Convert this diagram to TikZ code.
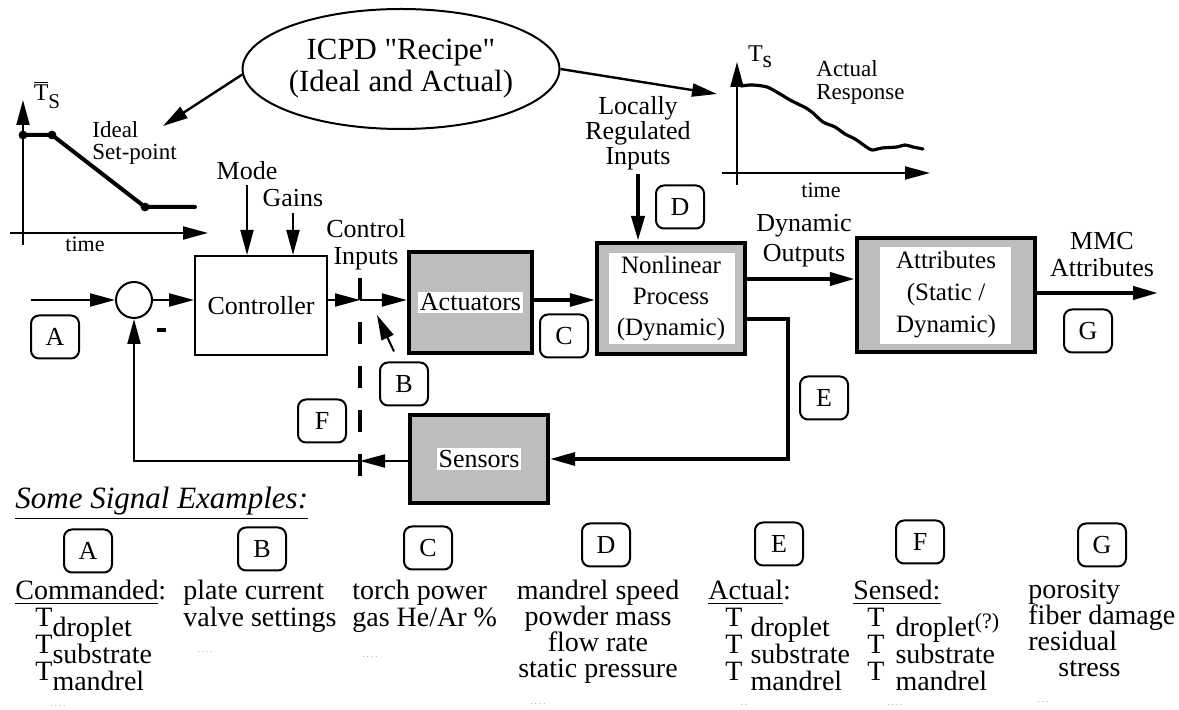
\documentclass[tikz,border=0pt]{standalone}
\usepackage{fontspec}
\setmainfont{Liberation Serif}
\usetikzlibrary{arrows.meta, calc, positioning, shapes.geometric}
\definecolor{Ink}  {HTML}{000000}
\definecolor{Stip} {HTML}{BDBDBD}
\definecolor{Speck}{HTML}{A8A8A8}
\setlength{\fboxsep}{1pt}
\newcommand{\fsz}[2]{\fontsize{#1}{#2}\selectfont}
% T with a lowered name
\newcommand{\Tsub}[2][0pt]{T\hspace{#1}\raisebox{-5pt}[0pt][0pt]{#2}}
\tikzset{
  blk/.style={
    rectangle, draw=Ink, line width=1pt,
    inner sep=0pt, align=center, font=\fsz{13}{15.5},
  },
  pblk/.style={blk, fill=Stip, line width=2.2pt},
  inset/.style args={#1/#2/#3/#4}{
    path picture={\fill[white]
      ([shift={(#1,#2)}]path picture bounding box.north west) rectangle
      ([shift={(#3,#4)}]path picture bounding box.south east);},
  },
  sigtag/.style={
    rectangle, rounded corners=4pt, draw=Ink, line width=1pt,
    minimum width=24pt, minimum height=21.5pt, inner sep=0pt,
    font=\fsz{13}{13},
  },
  arr/.style={
    -{Triangle[length=12.5pt,width=6.5pt]},
    line width=#1, draw=Ink,
  },
  arr/.default=1pt,
  lbl/.style={inner sep=0pt, align=center, font=\fsz{13}{13.5}},
  sigtext/.style={inner sep=0pt, anchor=north west, align=left, font=\fsz{14}{13.2}},
  trace/.style={line width=2pt, line join=round, line cap=round},
  cut/.style={line width=1.6pt, dash pattern=on 11pt off 11pt},
  speck/.style={text=Speck, font=\fsz{5}{5}, inner sep=0pt},
}

\begin{document}
\begin{tikzpicture}[x=0.5pt,y=-0.5pt]
  \useasboundingbox (0,0) rectangle (1179,710);

  % recipe and the two set-point plots
  \node[ellipse, draw=Ink, line width=1pt, minimum width=147pt, minimum height=60pt,
        inner sep=0pt, align=center, font=\fsz{15.4}{16}] (recipe) at (401,69)
        {ICPD \textquotedbl Recipe\textquotedbl\\(Ideal and Actual)};
  \coordinate (idealtip) at (163,126);
  \coordinate (acttip) at (717,94);
  \draw[arr=1.2pt] (recipe.182) -- (idealtip);
  \draw[arr=1.2pt] (recipe.east) -- (acttip);

  \draw[arr] (23,245) -- (23,100);
  \draw[arr] (10,233) -- (208,233);
  \draw[trace] (23,135) -- (52,135) -- (145,207) -- (195,207);
  \foreach \p in {(23,135),(52,135),(145,207)} \fill[Ink] \p circle (2.2pt);
  \node[lbl, font=\fsz{12}{12}] (tsbar) at (47,95) {$\overline{\hbox{T}}$\raisebox{-4pt}{\fsz{10.5}{10.5}S}};
  \node[lbl, align=left, anchor=west, font=\fsz{11.5}{11}] (ideal) at (92,143) {Ideal\\Set-point};
  \node[lbl, font=\fsz{11}{11}] (tleft) at (85,244) {time};

  \draw[arr] (737,185) -- (737,62);
  \draw[arr] (722,173) -- (930,173);
  \draw[trace, line width=1.6pt] plot[smooth, tension=0.5] coordinates {
    (741,86) (752,85) (767,87) (780,94) (790,100) (800,105) (806,108) (813,113)
    (823,122) (835,127) (845,134) (855,139) (865,146) (872,150) (882,148)
    (897,147) (905,145) (913,147) (923,149)};
  \node[lbl, font=\fsz{12}{12}] (ts) at (760,57) {T\raisebox{-3pt}{s}};
  \node[lbl, align=left, anchor=west, font=\fsz{11.5}{11.5}] (resp) at (816,82) {Actual\\Response};
  \node[lbl, font=\fsz{11}{11}] (tright) at (821,190) {time};

  % loop blocks
  \node[circle, draw=Ink, line width=1pt, minimum size=18pt, inner sep=0pt] (sum) at (134,300) {};
  \node[blk, minimum width=66pt, minimum height=49.5pt] (ctrl) at (261,305.5) {Controller};
  \node[pblk, minimum width=61.5pt, minimum height=50.5pt] (act) at (470.5,302.5) {\colorbox{white}{Actuators}};
  \node[pblk, minimum width=74pt, minimum height=55.5pt, inset=12/10/-10/-10,
        font=\fsz{12.5}{15.5}] (proc) at (671,298.5) {Nonlinear\\Process\\(Dynamic)};
  \node[pblk, minimum width=89pt, minimum height=57pt, inset=23/9/-24/-8,
        font=\fsz{12.5}{16}] (attr) at (946,295) {Attributes\\(Static /\\Dynamic)};
  \node[pblk, minimum width=69pt, minimum height=44pt] (sens) at (479,459) {\colorbox{white}{Sensors}};

  \node[lbl] (mode) at (247,171) {Mode};
  \node[lbl] (gains) at (293,198) {Gains};
  \node[lbl] (ctlin) at (366,245) {Control\\Inputs};
  \node[lbl, font=\fsz{13}{12.5}] (lri) at (638,133) {Locally\\Regulated\\Inputs};
  \node[lbl, font=\fsz{13}{15}] (dynout) at (804,241) {Dynamic\\Outputs};
  \node[lbl] (mmclbl) at (1102,255) {MMC\\Attributes};
  \node[lbl] (minus) at (161,330) {\rule{4.5pt}{1.8pt}};

  % cut line
  \coordinate (cutT) at (360,278);
  \coordinate (cutE) at (360,498);
  \draw[cut] (cutT) -- (cutE);

  % connectors
  \coordinate (in) at (31,300);
  \coordinate (cutA) at (360,300);
  \coordinate (cutB) at (360,461);
  \coordinate (dyn) at (800,279);
  \coordinate (mmc) at (1158,293);
  \coordinate (etop) at (788,319);
  \coordinate (ebot) at (788,459);
  \draw[arr] (in) -- (sum);
  \draw[arr] (sum) -- (sum -| ctrl.west);
  \draw[arr] (ctrl.east |- cutA) -- (cutA);
  \draw[arr] (cutA) -- (act.west |- cutA);
  \draw[arr=1.6pt] (act.east |- cutA) -- (proc.west |- cutA);
  \draw[arr=2pt] (proc.east |- dyn) -- (attr.west |- dyn);
  \draw[arr=2pt] (attr.east |- mmc) -- (mmc);
  \draw[arr=1.6pt] (proc.east |- etop) -- (etop) -- (ebot) -- (sens.east |- ebot);
  \draw[arr] (sens.west |- cutB) -- (cutB);
  \draw[arr] (cutB) -- (sum |- cutB) -- (sum.south);
  \draw[arr] ([yshift=-2pt]mode.south) -- (mode.south |- ctrl.north);
  \draw[arr] ([yshift=-3pt]gains.south) -- (gains.south |- ctrl.north);
  \draw[arr=2pt] ([yshift=-2pt]lri.south) -- (lri.south |- proc.north);

  % signal tags in the loop
  \node[sigtag] (tA) at (55,337) {A};
  \node[sigtag] (tB) at (404,384) {B};
  \node[sigtag] (tC) at (564,336) {C};
  \node[sigtag] (tD) at (680,207) {D};
  \node[sigtag] (tE) at (824,398) {E};
  \node[sigtag] (tF) at (322,421) {F};
  \node[sigtag] (tG) at (1088,331) {G};
  \coordinate (bpt) at (377,315);
  \draw[arr] ([shift={(-10,-10)}]tB.north) -- (bpt);

  % examples
  \node[anchor=base west, inner sep=0pt, font=\fsz{15.5}{15.5}\itshape] (sse) at (15,509)
        {\underline{Some Signal Examples:}};
  \node[sigtag] (bA) at (88,551) {A};
  \node[sigtag] (bB) at (262,549) {B};
  \node[sigtag] (bC) at (428,548) {C};
  \node[sigtag] (bD) at (606,545) {D};
  \node[sigtag] (bE) at (779,544) {E};
  \node[sigtag] (bF) at (920,542) {F};
  \node[sigtag] (bG) at (1102,545) {G};

  \node[sigtext, font=\fsz{14}{13.4}] (lA) at (15,580)
    {\underline{Commanded}:\\\hspace*{10pt}\Tsub{droplet}\\\hspace*{10pt}\Tsub{substrate}\\\hspace*{10pt}\Tsub{mandrel}};
  \node[sigtext] (lB) at (183,580) {plate current\\valve settings};
  \node[sigtext] (lC) at (352,580) {torch power\\gas He/Ar \%};
  \node[sigtext, anchor=north, align=center, font=\fsz{14}{12.9}] (lD) at (598,580)
    {mandrel speed\\powder mass\\flow rate\\static pressure};
  \node[sigtext, font=\fsz{14}{13.4}] (lE) at (708,580)
    {\underline{Actual}:\\\hspace*{8.5pt}\Tsub[4pt]{droplet}\\\hspace*{8.5pt}\Tsub[4pt]{substrate}\\\hspace*{8.5pt}\Tsub[4pt]{mandrel}};
  \node[sigtext, font=\fsz{14}{13.4}] (lF) at (853,580)
    {\underline{Sensed:}\\\hspace*{7pt}\Tsub[5.5pt]{droplet\raisebox{4pt}{\fsz{11}{11}(?)}}\\\hspace*{7pt}\Tsub[5.5pt]{substrate}\\\hspace*{7pt}\Tsub[5.5pt]{mandrel}};
  \node[sigtext, font=\fsz{14}{12.9}] (lG) at (1028,580)
    {porosity\\fiber damage\\residual\\\hspace*{15pt}stress};

  \node[speck] (sA) at (58,706) {.\,.\,.\,.};
  \node[speck] (sB) at (205,652) {.\,.\,.\,.};
  \node[speck] (sC) at (370,657) {.\,.\,.\,.};
  \node[speck] (sD) at (538,704) {.\,.\,.\,.};
  \node[speck] (sE) at (744,705) {.\,.};
  \node[speck] (sF) at (895,705) {.\,.\,.\,.};
  \node[speck] (sG) at (1043,702) {.\,.\,.};
\end{tikzpicture}
\end{document}
